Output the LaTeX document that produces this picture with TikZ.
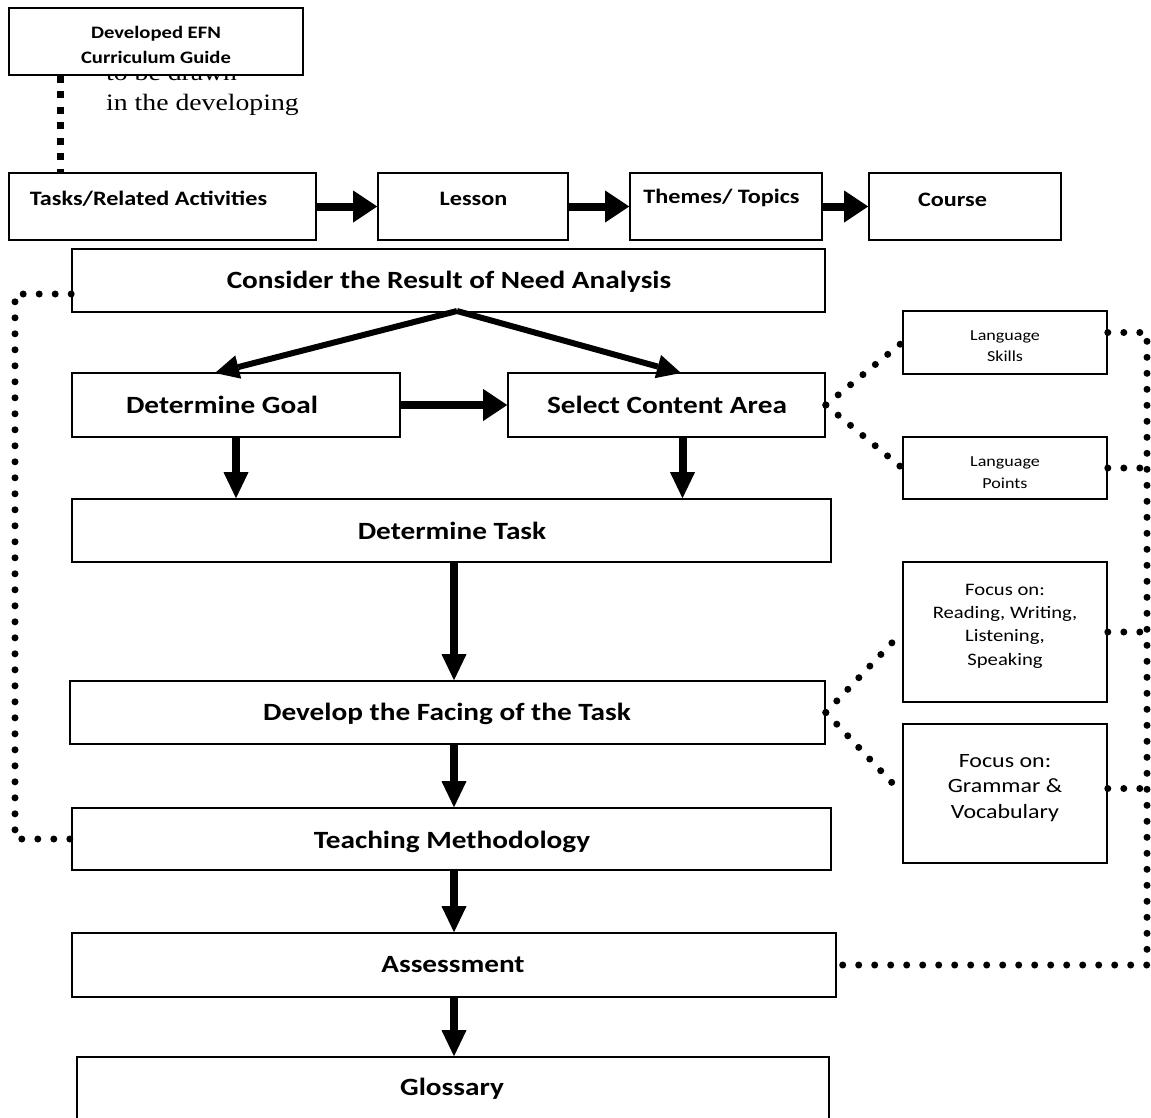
\documentclass[tikz,border=0pt]{standalone}
\usepackage{fontspec}
\setmainfont{Carlito}[FakeStretch=1.18]
\newfontfamily\serifx{Liberation Serif}[FakeStretch=1.18]
\usetikzlibrary{arrows.meta,calc}
\tikzset{
  box/.style={draw, line width=1.6pt, fill=white, inner sep=0pt},
  bigtxt/.style={font=\fontsize{24.8}{29}\selectfont\bfseries, anchor=base, inner sep=0pt},
  midtxt/.style={font=\fontsize{20.5}{24}\selectfont\bfseries, anchor=base, inner sep=0pt},
  smalltxt/.style={align=center, anchor=north, inner sep=0pt},
  fatarrow/.style={line width=8pt, -{Triangle[length=24pt,width=32pt,line width=0pt]}},
  diagarrow/.style={line width=6pt, -{Triangle[length=24pt,width=24pt,line width=0pt]}},
  vertarrow/.style={line width=8pt, -{Triangle[length=26pt,width=25pt,line width=0pt]}},
  dotline/.style={line width=7pt, line cap=round, dash pattern=on 0pt off 16pt},
  sqline/.style={line width=7pt, dash pattern=on 7pt off 8.5pt},
}
\begin{document}
\begin{tikzpicture}[x=1pt,y=-1pt]
\useasboundingbox (0,0) rectangle (1151,1117);
% stray text partly hidden behind the top box
\node[font=\serifx\fontsize{23.5}{28}\selectfont, anchor=base west, inner sep=0pt] (s1) at (106,80) {to be drawn};
\node[font=\serifx\fontsize{23.5}{28}\selectfont, anchor=base west, inner sep=0pt] (s2) at (106,110) {in the developing};
% boxes
\node[box, minimum width=294, minimum height=67] (dev) at (156,41.5) {};
\node[box, minimum width=307, minimum height=67] (tasks) at (162.5,206.5) {};
\node[box, minimum width=190, minimum height=67] (lesson) at (473,206.5) {};
\node[box, minimum width=192, minimum height=67] (themes) at (726,206.5) {};
\node[box, minimum width=192, minimum height=67] (course) at (965,206.5) {};
\node[box, minimum width=753, minimum height=63] (consider) at (448.5,280.5) {};
\node[box, minimum width=328, minimum height=64] (goal) at (236,405) {};
\node[box, minimum width=317, minimum height=64] (select) at (666.5,405) {};
\node[box, minimum width=204, minimum height=63] (lskills) at (1005,342.5) {};
\node[box, minimum width=204, minimum height=62] (lpoints) at (1005,468) {};
\node[box, minimum width=759, minimum height=63] (dtask) at (451.5,530.5) {};
\node[box, minimum width=755, minimum height=63] (develop) at (447.5,712.5) {};
\node[box, minimum width=204, minimum height=140] (freading) at (1005,632) {};
\node[box, minimum width=204, minimum height=139] (fgrammar) at (1005,793.5) {};
\node[box, minimum width=759, minimum height=62] (teach) at (451.5,839) {};
\node[box, minimum width=764, minimum height=64] (assess) at (454,965) {};
\node[box, minimum width=752, minimum height=73] (gloss) at (453,1093.5) {};
% texts
\node[smalltxt, font=\fontsize{17.5}{25}\selectfont\bfseries] (tdev) at (156,25.6) {Developed EFN\\Curriculum Guide};
\node[midtxt] (ttasks) at (148.5,205) {Tasks/Related Activities};
\node[midtxt] (tlesson) at (473.5,205) {Lesson};
\node[midtxt] (tthemes) at (721.5,203) {Themes/ Topics};
\node[midtxt] (tcourse) at (952.5,206.5) {Course};
\node[bigtxt] (tconsider) at (449,288) {Consider the Result of Need Analysis};
\node[bigtxt] (tgoal) at (222,413) {Determine Goal};
\node[bigtxt] (tselect) at (667,413) {Select Content Area};
\node[bigtxt] (tdtask) at (452,539) {Determine Task};
\node[bigtxt] (tdevelop) at (447,720) {Develop the Facing of the Task};
\node[bigtxt] (tteach) at (452,848) {Teaching Methodology};
\node[bigtxt] (tassess) at (453,972) {Assessment};
\node[bigtxt] (tgloss) at (452,1095) {Glossary};
\node[smalltxt, font=\fontsize{15.3}{21.5}\selectfont] (tls) at (1005,330.1) {Language\\Skills};
\node[smalltxt, font=\fontsize{15.3}{21.5}\selectfont] (tlp) at (1005,456.6) {Language\\Points};
\node[smalltxt, font=\fontsize{17.5}{23.3}\selectfont] (tfr) at (1005,583.7) {Focus on:\\Reading, Writing,\\Listening,\\Speaking};
\node[smalltxt, font=\fontsize{20.3}{25.5}\selectfont] (tfg) at (1005,753.9) {Focus on:\\Grammar \&\\Vocabulary};
% helper coordinates
\coordinate (axis) at (454,0);
\coordinate (lx) at (15,0);
\coordinate (rx) at (1147,0);
\coordinate (sx) at (60,0);
\coordinate (apex) at (457,311);
\coordinate (gtip) at (215,373);
\coordinate (stip) at (681,373);
% square-dotted link
\draw[sqline] (dev.south -| sx) -- (tasks.north -| sx);
% top row arrows
\draw[fatarrow] (tasks.east) -- (lesson.west);
\draw[fatarrow] (lesson.east) -- (themes.west);
\draw[fatarrow] (themes.east) -- (course.west);
% split arrows
\draw[diagarrow] (apex) -- (gtip);
\draw[diagarrow] (apex) -- (stip);
\draw[fatarrow] (goal.east) -- (select.west);
\draw[vertarrow] (goal.south) -- (goal.south |- dtask.north);
\draw[vertarrow] ($(select.south)+(16,0)$) coordinate (sd) -- (sd |- dtask.north);
\draw[vertarrow] (dtask.south -| axis) -- (develop.north -| axis);
\draw[vertarrow] (develop.south -| axis) -- (teach.north -| axis);
\draw[vertarrow] (teach.south -| axis) -- (assess.north -| axis);
\draw[vertarrow] (assess.south -| axis) -- (gloss.north -| axis);
% left dotted loop
\draw[dotline] ($(consider.west)+(0,13.5)$) coordinate (cw) -- (cw -| lx) -- (lx |- teach.west) -- (teach.west);
% dotted fan-outs
\draw[dotline] (select.east) -- (lskills.west);
\draw[dotline] (select.east) -- (lpoints.west);
\draw[dotline] (develop.east) -- (freading.west);
\draw[dotline] (develop.east) -- (fgrammar.west);
% right dotted collector
\draw[dotline] ($(lskills.east)+(0,-10)$) coordinate (ls1) -- (ls1 -| rx) -- (rx |- assess.east) -- (assess.east);
\draw[dotline] (lpoints.east) -- (lpoints.east -| rx);
\draw[dotline] (freading.east) -- (freading.east -| rx);
\draw[dotline] ($(fgrammar.east)+(0,-5)$) coordinate (fg1) -- (fg1 -| rx);
\end{tikzpicture}
\end{document}
